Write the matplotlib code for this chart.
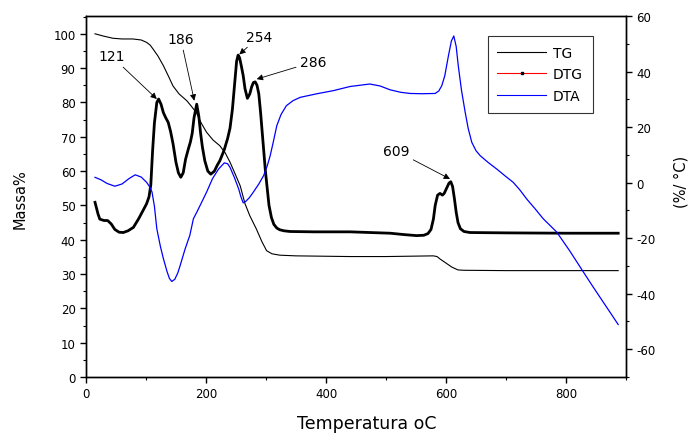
import matplotlib
matplotlib.use("Agg")
import matplotlib.pyplot as plt
from matplotlib.lines import Line2D
from matplotlib.ticker import MultipleLocator

plt.rcParams['font.family'] = ['DejaVu Sans']
plt.rcParams['axes.unicode_minus'] = False

# ---------------- data ----------------
tg_x = [15, 30, 45, 60, 78, 92, 101, 107, 112, 120, 129, 137, 145, 155, 168, 176, 184, 192,
        201, 212, 223, 232, 240, 249, 257, 265, 273, 284, 293, 301, 310, 323, 350, 440, 500,
        579, 585, 590, 600, 610, 620, 630, 700, 887]
tg_y = [100, 99.3, 98.7, 98.5, 98.5, 98.2, 97.5, 96.7, 95.5, 93.5, 90.7, 87.8, 84.8, 82.5,
        80.5, 78.8, 77, 74, 71.3, 69, 67.4, 65.3, 62.6, 59, 55.7, 50.5, 47, 43.1, 39.5, 36.8,
        35.9, 35.5, 35.3, 35.1, 35.1, 35.3, 35.1, 34.4, 33.2, 32, 31.2, 31.1, 31.0, 31.0]

dtg_x = [15, 20, 23, 30, 36, 42, 48, 55, 62, 70, 79, 88, 95, 101, 105, 108, 111, 114, 118,
         121, 125, 129, 133, 137, 141, 145, 150, 154, 158, 162, 166, 170.5, 174, 177, 180,
         184.5, 188, 191, 194, 198, 203, 208, 214, 219, 223, 230, 236, 240, 244, 248, 251,
         253.5, 256, 259, 262, 265, 269, 273, 276, 279, 282, 285, 288, 291, 295, 299, 302,
         305, 309, 313, 318, 323, 330, 340, 380, 440, 507, 530, 551, 563, 570, 575, 579, 582,
         586, 590, 594, 597, 601, 605, 608, 611, 614, 617, 620, 624, 630, 640, 700, 800, 887]
dtg_y = [50.9, 47.5, 46.0, 45.6, 45.6, 44.6, 43.0, 42.2, 42.1, 42.6, 43.6, 46.2, 48.5, 50.5,
         52.5, 56, 66, 74, 80, 81, 79.5, 77, 75.5, 74.2, 71.5, 68, 62.5, 59.5, 58.2, 59.5,
         63.5, 66.4, 68.5, 71, 75.5, 79.5, 76, 71, 67, 63, 60, 59.1, 60, 61.8, 63, 66, 69.5,
         72.5, 78, 86, 92, 93.8, 93, 90.5, 87.8, 84, 81.2, 82.5, 84.5, 85.8, 86, 85, 82.5, 77,
         68.5, 60, 55, 50, 46.5, 44.5, 43.4, 42.9, 42.6, 42.4, 42.3, 42.3, 41.9, 41.5, 41.2,
         41.3, 41.8, 43, 46, 50, 53, 53.5, 53, 53.5, 55, 56.5, 56.9, 55.5, 52, 48, 45, 43.2,
         42.4, 42.1, 42.0, 41.9, 41.9]

dta_x = [15, 25, 35, 48, 60, 72, 82, 92, 101, 106, 110, 114, 118, 124, 129, 135, 139, 143,
         148, 153, 157, 165, 173, 179, 185, 190, 201, 211, 221, 230.5, 236, 240, 247, 254.5,
         258, 262, 266, 272, 279, 288, 296, 302, 307, 312, 318, 325, 334, 345, 357, 385, 412,
         440, 473, 490, 507, 525, 540, 560, 582, 588, 593, 598, 604, 609, 613, 617, 620.5,
         626, 632, 637, 643, 650, 657, 670, 684.5, 698, 712, 723, 734.5, 748, 762, 784.5,
         806, 829, 845, 862, 875, 887]
dta_y = [1.9, 1.0, -0.3, -1.3, -0.5, 1.5, 2.8, 2.0, 0.1, -1.5, -3.4, -8.5, -16.6, -23, -27.4,
         -32, -34.5, -35.6, -34.8, -32.5, -29.8, -24, -19, -13, -10.5, -8.3, -3.4, 1.5, 4.9,
         7.1, 6.8, 5.5, 2, -2.3, -5, -7.3, -6.8, -5.5, -3.4, -0.5, 2.5, 6, 9.7, 14.5, 20.5,
         24.5, 27.7, 29.5, 30.7, 32, 33.1, 34.6, 35.5, 34.8, 33.4, 32.5, 32.1, 32, 32.1, 33,
         34.9, 38.5, 45.6, 51, 52.8, 49, 42, 33, 25.3, 19.5, 14.5, 11.5, 9.7, 7.3, 4.9, 2.5,
         0.1, -2.6, -5.9, -9.3, -13, -17.8, -24.5, -32.2, -37.5, -43, -47.2, -51.1]

peak_labels = ["121", "186", "254", "286", "609"]
peak_xy = [(118, 81), (180.5, 80.5), (255.5, 94), (284.5, 86.8), (606.7, 57.7)]
label_xy = [(43, 93.4), (158, 98.5), (289, 99.2), (379, 91.8), (516.7, 65.9)]

# ---------------- figure ----------------
W, H = 692, 435
fig = plt.figure(figsize=(6.92, 4.35), dpi=100)
ax = fig.add_axes([0.1243, 0.131, 0.7803, 0.830])
ax2 = ax.twinx()

ax.plot(tg_x, tg_y, color='black', lw=0.8)
ax.plot(dtg_x, dtg_y, color='black', lw=2.0)
ax2.plot(dta_x, dta_y, color='#0000ff', lw=0.9)

ax.set_xlim(0, 900)
ax.set_ylim(0, 105.2)
ax2.set_ylim(-70, 60)

ax.xaxis.set_major_locator(MultipleLocator(200))
ax.xaxis.set_minor_locator(MultipleLocator(100))
ax.yaxis.set_major_locator(MultipleLocator(10))
ax.yaxis.set_minor_locator(MultipleLocator(5))
ax2.yaxis.set_major_locator(MultipleLocator(20))
ax2.yaxis.set_minor_locator(MultipleLocator(10))

for a in (ax, ax2):
    a.tick_params(which='major', direction='out', length=4.5, width=1.0, labelsize=8.5, pad=3)
    a.tick_params(which='minor', direction='out', length=2.5, width=0.8)
    for s in a.spines.values():
        s.set_linewidth(1.0)
ax.tick_params(axis='both', which='both', top=False, right=False)
ax2.tick_params(axis='y', which='both', left=False, right=True)

fig.text(367 / W, 1 - 424 / H, "Temperatura oC", fontsize=12.5, ha='center', va='center')
fig.text(20 / W, 1 - 199 / H, "Massa%", fontsize=10.5, ha='center', va='center', rotation=90)
fig.text(681 / W, 1 - 182 / H, "(%/ °C)", fontsize=10.5, ha='center', va='center', rotation=90)

for txt, head, pos in zip(peak_labels, peak_xy, label_xy):
    ax.annotate(txt, xy=head, xytext=pos, fontsize=10, ha='center', va='center',
                arrowprops=dict(arrowstyle='-|>', color='black', lw=0.6,
                                mutation_scale=9, shrinkA=1, shrinkB=0))

handles = [Line2D([], [], color='black', lw=0.8),
           Line2D([], [], color='red', lw=0.8, marker='s', markersize=2,
                  markerfacecolor='black', markeredgecolor='black'),
           Line2D([], [], color='#0000ff', lw=0.8)]
leg = ax.legend(handles, ["TG", "DTG", "DTA"], loc='upper left',
                bbox_to_anchor=(0.744, 0.945), borderaxespad=0, fontsize=10,
                frameon=True, fancybox=False, edgecolor='black', handlelength=3.5,
                handletextpad=0.5, labelspacing=0.55, borderpad=0.7)
leg.get_frame().set_linewidth(0.8)
leg.set_zorder(10)

fig.savefig("out.png", dpi=100)
